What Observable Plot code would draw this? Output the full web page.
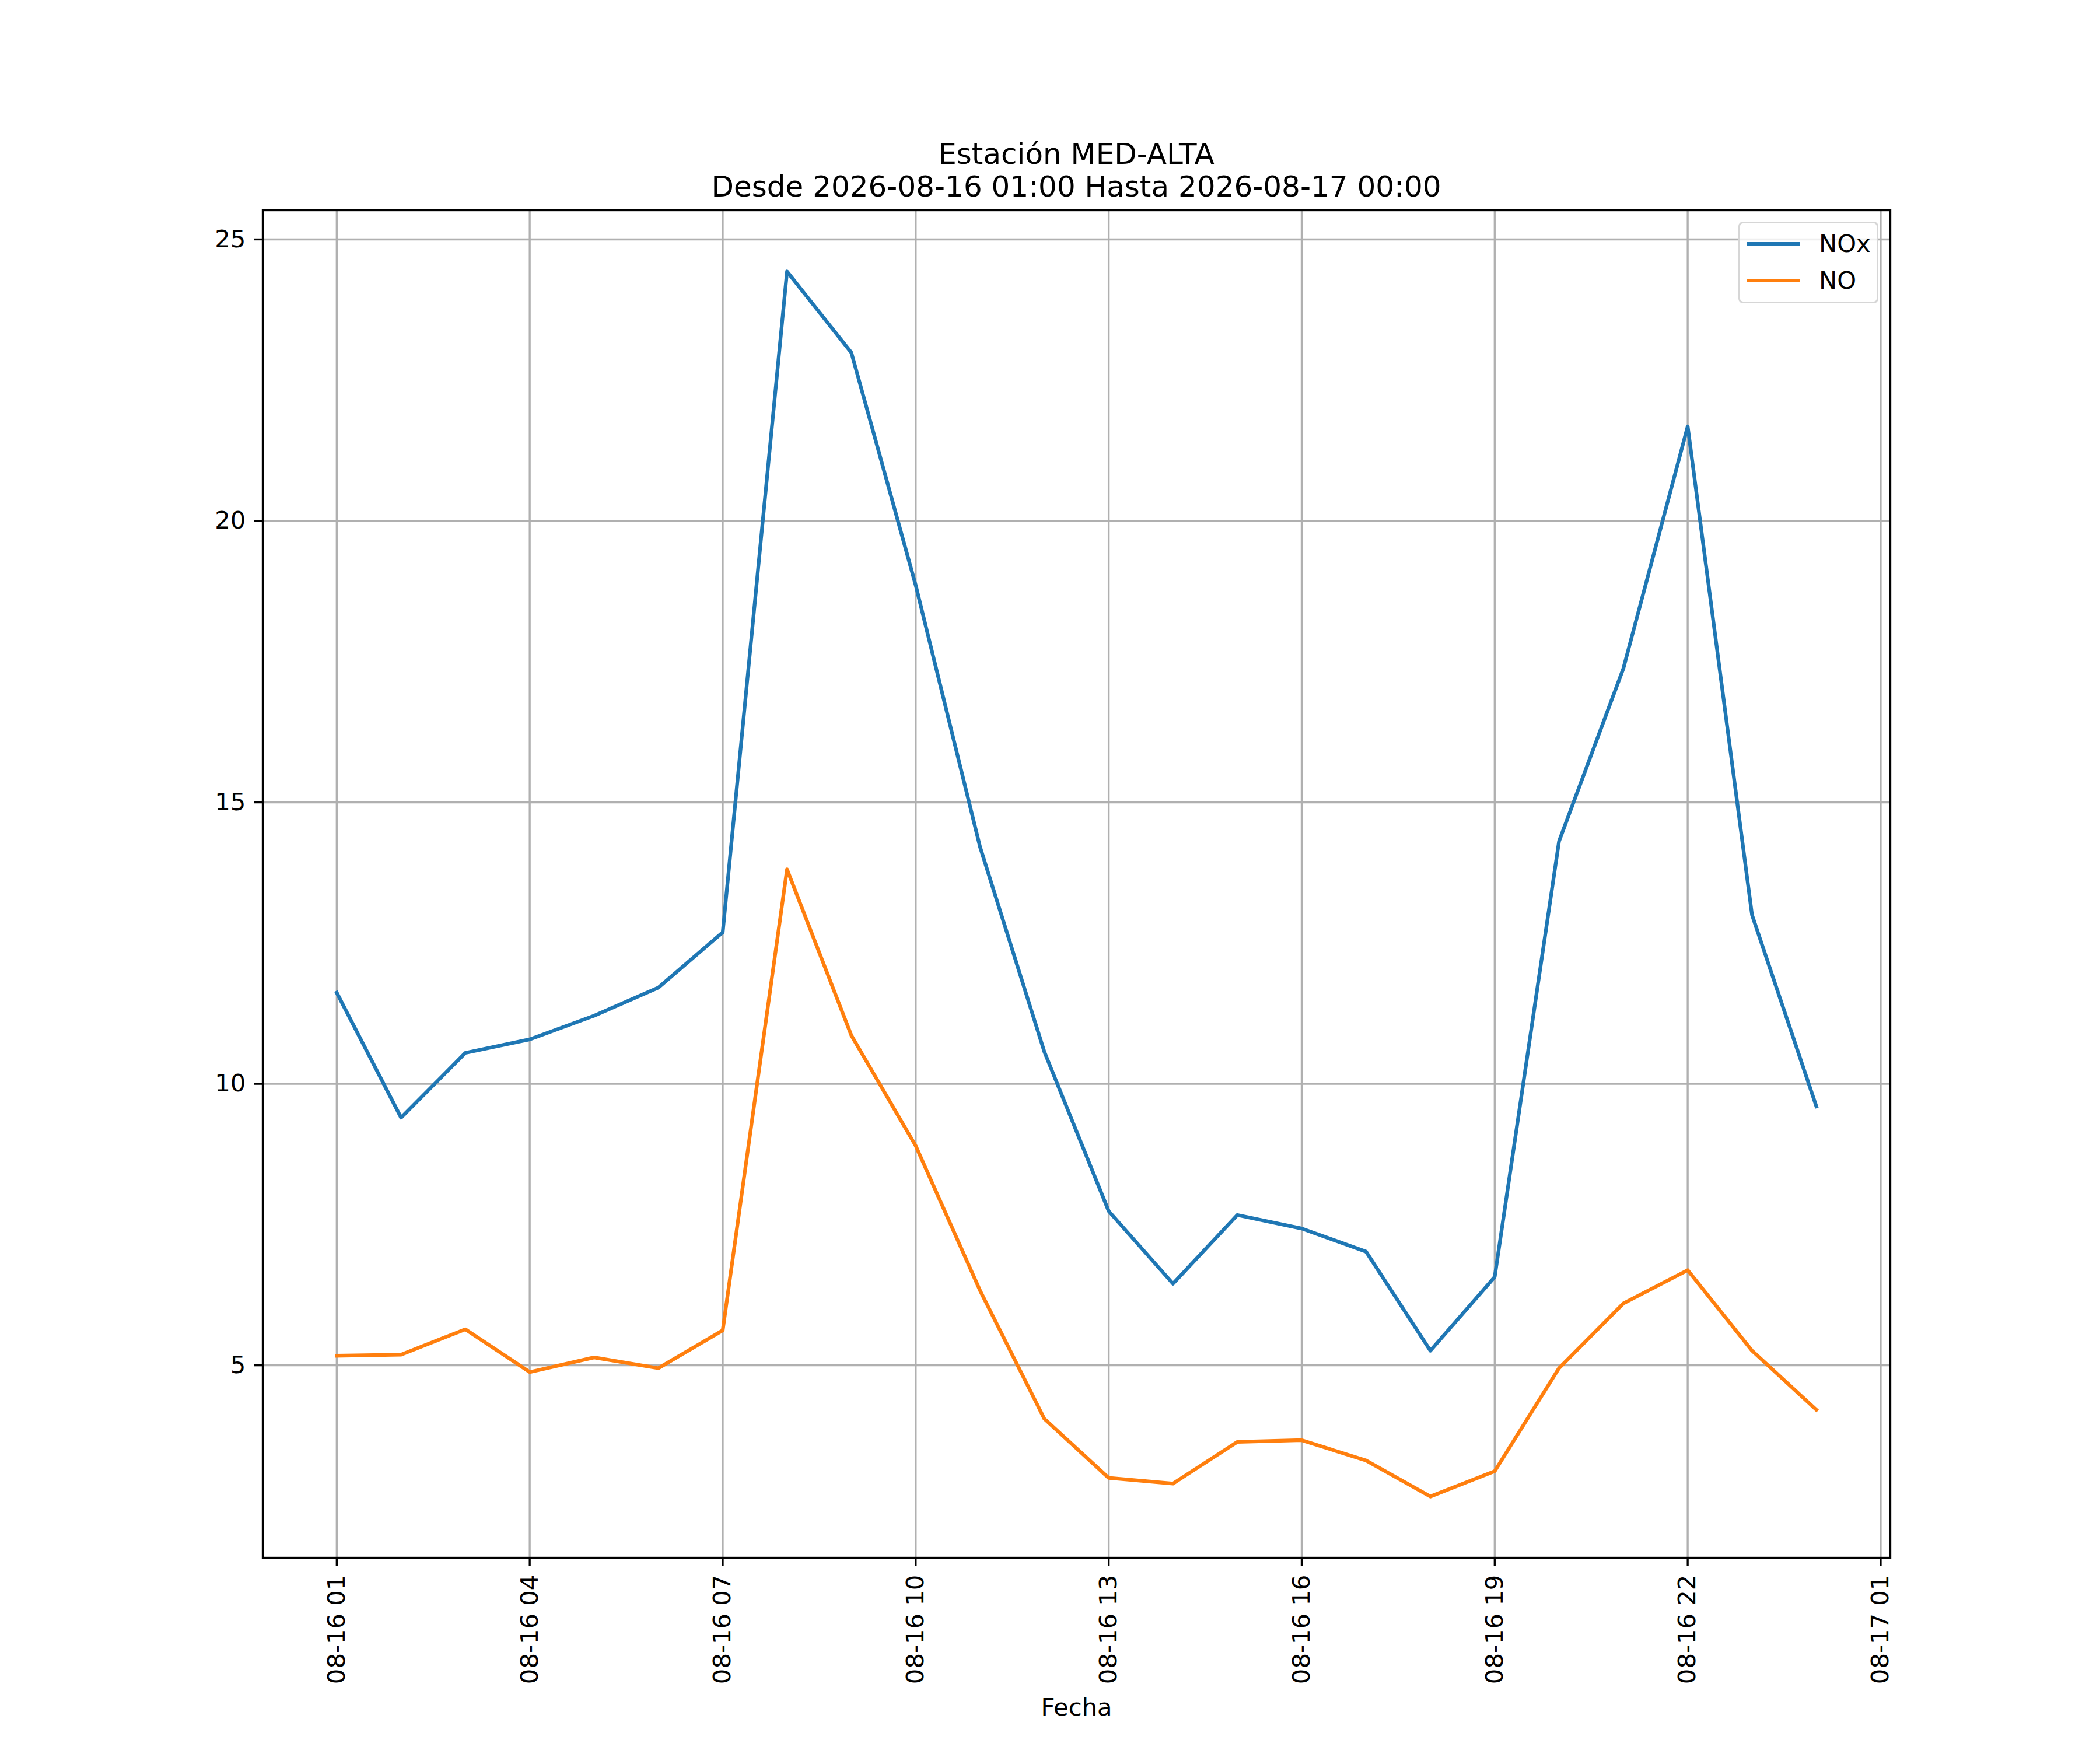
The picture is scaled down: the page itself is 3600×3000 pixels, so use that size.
<!DOCTYPE html>
<html>
<head>
<meta charset="utf-8">
<script src="https://cdn.jsdelivr.net/npm/d3@7"></script>
<script src="https://cdn.jsdelivr.net/npm/@observablehq/plot@0.6"></script>
<style>
  html, body { margin: 0; padding: 0; background: white; }
  #fig { position: relative; width: 3600px; height: 3000px; background: white; font-family: "DejaVu Sans", sans-serif; color: black; }
  #fig svg { position: absolute; left: 0; top: 0; }
  .title { position: absolute; left: 0; width: 3690px; text-align: center; font-size: 50px; line-height: 56px; white-space: nowrap; }
  #legend { position: absolute; left: 2980px; top: 380px; width: 234px; height: 134px; border: 3.3px solid #d6d6d6; border-radius: 8px; background: rgba(255,255,255,0.8); }
  .lg-row { position: absolute; left: 0; height: 50px; font-size: 41.7px; line-height: 50px; }
  .lg-line { position: absolute; left: 12px; width: 90px; height: 6.25px; }
  .lg-text { position: absolute; left: 135px; white-space: nowrap; }
</style>
</head>
<body>
<div id="fig">
  <div class="title" id="t1" style="top:236px;"></div>
  <div class="title" id="t2" style="top:292px;"></div>
</div>
<script>
// ---- data ----
const titleLine1 = "Estación MED-ALTA";
const titleLine2 = "Desde 2026-08-16 01:00 Hasta 2026-08-17 00:00";
const xLabel = "Fecha";
const seriesNames = ["NOx", "NO"];
const seriesColors = ["#1f77b4", "#ff7f0e"];
const hours = [1,2,3,4,5,6,7,8,9,10,11,12,13,14,15,16,17,18,19,20,21,22,23,24];
const noxValues = [11.62, 9.40, 10.55, 10.79, 11.21, 11.71, 12.69, 24.43, 22.99, 18.86, 14.21, 10.57, 7.74, 6.45, 7.67, 7.43, 7.02, 5.26, 6.57, 14.31, 17.38, 21.68, 13.00, 9.60];
const noValues  = [5.17, 5.19, 5.64, 4.88, 5.14, 4.95, 5.62, 13.81, 10.86, 8.90, 6.33, 4.05, 3.00, 2.90, 3.64, 3.67, 3.31, 2.67, 3.12, 4.95, 6.10, 6.69, 5.26, 4.21];
const xTickHours = [1, 4, 7, 10, 13, 16, 19, 22, 25];
const yTicks = [5, 10, 15, 20, 25];

// ---- build ----
const toDate = h => new Date(Date.UTC(2026, 7, 16, h));
const rows = [];
hours.forEach((h, i) => {
  rows.push({t: toDate(h), v: noxValues[i], s: seriesNames[0]});
});
hours.forEach((h, i) => {
  rows.push({t: toDate(h), v: noValues[i], s: seriesNames[1]});
});

const tExt = d3.extent(rows, d => +d.t);
const tPad = (tExt[1] - tExt[0]) * 0.05;
const vExt = d3.extent(rows, d => d.v);
const vPad = (vExt[1] - vExt[0]) * 0.05;
const xTicks = xTickHours.map(toDate);

const LW = 3.33;
const plot = Plot.plot({
  width: 3600,
  height: 3000,
  marginLeft: 450,
  marginRight: 360,
  marginTop: 360,
  marginBottom: 330,
  style: {fontFamily: "DejaVu Sans, sans-serif", fontSize: "41.7px", background: "white", color: "black", overflow: "visible"},
  x: {type: "utc", domain: [new Date(tExt[0] - tPad), new Date(tExt[1] + tPad)]},
  y: {domain: [vExt[0] - vPad, vExt[1] + vPad]},
  color: {domain: seriesNames, range: seriesColors},
  marks: [
    Plot.gridX(xTicks, {stroke: "#b0b0b0", strokeOpacity: 1, strokeWidth: LW}),
    Plot.gridY(yTicks, {stroke: "#b0b0b0", strokeOpacity: 1, strokeWidth: LW}),
    Plot.line(rows, {x: "t", y: "v", z: "s", stroke: "s", strokeWidth: 6.25, strokeLinejoin: "round", strokeLinecap: "square"}),
    Plot.frame({stroke: "black", strokeWidth: LW}),
    Plot.axisX(xTicks, {
      anchor: "bottom",
      tickFormat: d3.utcFormat("%m-%d %H"),
      tickRotate: -90,
      tickSize: 14.6,
      tickPadding: 14.6,
      strokeWidth: LW,
      stroke: "black",
      fill: "black",
      fontSize: 41.7,
      label: null
    }),
    Plot.axisY(yTicks, {
      anchor: "left",
      tickFormat: d => String(d),
      tickSize: 14.6,
      tickPadding: 14.6,
      strokeWidth: LW,
      stroke: "black",
      fill: "black",
      fontSize: 41.7,
      label: null
    }),
    Plot.text([xLabel], {frameAnchor: "bottom", dy: 257, lineAnchor: "middle", fill: "black", fontSize: 41.7})
  ]
});
const fig = document.getElementById("fig");
fig.insertBefore(plot, fig.firstChild);
document.getElementById("t1").textContent = titleLine1;
document.getElementById("t2").textContent = titleLine2;

// legend
const legend = document.createElement("div");
legend.id = "legend";
seriesNames.forEach((name, i) => {
  const row = document.createElement("div");
  row.className = "lg-row";
  row.style.top = (10 + i * 63) + "px";
  row.style.width = "234px";
  const ln = document.createElement("div");
  ln.className = "lg-line";
  ln.style.background = seriesColors[i];
  ln.style.top = "22px";
  const tx = document.createElement("div");
  tx.className = "lg-text";
  tx.textContent = name;
  row.appendChild(ln);
  row.appendChild(tx);
  legend.appendChild(row);
});
fig.appendChild(legend);
</script>
</body>
</html>
